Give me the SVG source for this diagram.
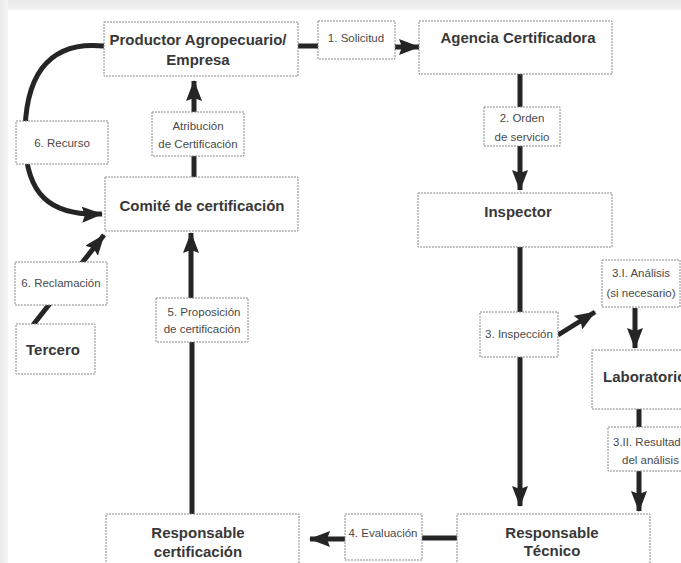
<svg xmlns="http://www.w3.org/2000/svg" width="681" height="563" viewBox="0 0 681 563">
<defs>
<linearGradient id="topg" x1="0" y1="0" x2="0" y2="1"><stop offset="0" stop-color="#e9e9e9"/><stop offset="1" stop-color="#f4f4f4"/></linearGradient>
<linearGradient id="leftg" x1="0" y1="0" x2="1" y2="0"><stop offset="0" stop-color="#e9e9e9"/><stop offset="1" stop-color="#f4f4f4"/></linearGradient>
<marker id="ah" markerUnits="userSpaceOnUse" markerWidth="21" markerHeight="16" viewBox="0 0 21 16" refX="20" refY="8" orient="auto">
<path d="M0,0 L21,8 L0,16 L3,8 z" fill="#252525"/>
</marker>
<style>
.node rect{fill:#fff;stroke:#8a8a8a;stroke-width:1;stroke-dasharray:2 1}
.lbl rect{fill:#fff;stroke:#8a8a8a;stroke-width:1;stroke-dasharray:2 1}
.nt{font-family:"Liberation Sans",Arial,sans-serif;font-weight:bold;font-size:15px;fill:#383838;text-anchor:middle}
.lt{font-family:"Liberation Sans",Arial,sans-serif;font-size:11.5px;fill:#4a4a4a;text-anchor:middle}
.c{fill:none;stroke:#252525;stroke-width:5}
</style>
</defs>
<rect width="681" height="563" fill="#fff"/>
<rect x="0" y="0" width="681" height="10" fill="url(#topg)"/>
<rect x="0" y="0" width="8" height="563" fill="url(#leftg)"/>

<g id="connectors">
<line class="c" x1="298" y1="46" x2="318" y2="46"/>
<line class="c" x1="395" y1="47" x2="419" y2="47" marker-end="url(#ah)"/>
<line class="c" x1="520" y1="74" x2="520" y2="107"/>
<line class="c" x1="520" y1="146" x2="520" y2="190" marker-end="url(#ah)"/>
<line class="c" x1="520" y1="247" x2="520" y2="312"/>
<line class="c" x1="520" y1="357" x2="520" y2="506" marker-end="url(#ah)"/>
<line class="c" x1="558" y1="335" x2="595" y2="312" marker-end="url(#ah)"/>
<line class="c" x1="635" y1="308" x2="635" y2="348" marker-end="url(#ah)"/>
<line class="c" x1="639" y1="409" x2="639" y2="427"/>
<line class="c" x1="639" y1="471" x2="639" y2="511" marker-end="url(#ah)"/>
<line class="c" x1="457" y1="538" x2="422" y2="538"/>
<line class="c" x1="345" y1="539" x2="310" y2="539" marker-end="url(#ah)"/>
<line class="c" x1="192" y1="514" x2="192" y2="342"/>
<line class="c" x1="191" y1="298" x2="191" y2="233" marker-end="url(#ah)"/>
<line class="c" x1="194" y1="177" x2="194" y2="156"/>
<line class="c" x1="194" y1="112" x2="194" y2="81" marker-end="url(#ah)"/>
<path class="c" d="M104,46 C45,40 24,80 25,140 C26,195 50,216 102,214" marker-end="url(#ah)"/>
<line class="c" x1="33" y1="325" x2="104" y2="235" marker-end="url(#ah)"/>
</g>

<g id="productor" class="node"><rect x="104" y="22" width="194" height="54"/>
<text class="nt" x="198" y="45">Productor Agropecuario/</text><text class="nt" x="198" y="65">Empresa</text></g>
<g id="agencia" class="node"><rect x="419" y="21" width="193" height="53"/>
<text class="nt" x="518" y="43">Agencia Certificadora</text></g>
<g id="inspector" class="node"><rect x="418" y="193" width="194" height="54"/>
<text class="nt" x="518" y="217">Inspector</text></g>
<g id="laboratorio" class="node"><rect x="592" y="350" width="120" height="59"/>
<text class="nt" x="603" y="382" style="text-anchor:start">Laboratorio</text></g>
<g id="resp-tecnico" class="node"><rect x="457" y="514" width="193" height="80"/>
<text class="nt" x="552" y="538">Responsable</text><text class="nt" x="552" y="556">Técnico</text></g>
<g id="resp-cert" class="node"><rect x="106" y="514" width="193" height="80"/>
<text class="nt" x="198" y="538">Responsable</text><text class="nt" x="198" y="557">certificación</text></g>
<g id="comite" class="node"><rect x="105" y="177" width="193" height="54"/>
<text class="nt" x="202" y="211">Comité de certificación</text></g>
<g id="tercero" class="node"><rect x="16" y="324" width="79" height="50"/>
<text class="nt" x="53" y="355">Tercero</text></g>

<g id="lbl-solicitud" class="lbl"><rect x="318" y="21" width="77" height="38"/>
<text class="lt" x="356" y="42">1. Solicitud</text></g>
<g id="lbl-orden" class="lbl"><rect x="484" y="107" width="76" height="39"/>
<text class="lt" x="522" y="122">2. Orden</text><text class="lt" x="522" y="141">de servicio</text></g>
<g id="lbl-inspeccion" class="lbl"><rect x="480" y="312" width="78" height="45"/>
<text class="lt" x="519" y="338">3. Inspección</text></g>
<g id="lbl-analisis" class="lbl"><rect x="602" y="260" width="78" height="47"/>
<text class="lt" x="641" y="277">3.I. Análisis</text><text class="lt" x="641" y="297">(si necesario)</text></g>
<g id="lbl-resultado" class="lbl"><rect x="608" y="427" width="100" height="44"/>
<text class="lt" x="613" y="446" style="text-anchor:start">3.II. Resultado</text><text class="lt" x="622" y="464" style="text-anchor:start">del análisis</text></g>
<g id="lbl-evaluacion" class="lbl"><rect x="345" y="514" width="77" height="46"/>
<text class="lt" x="383" y="537">4. Evaluación</text></g>
<g id="lbl-proposicion" class="lbl"><rect x="156" y="298" width="92" height="44"/>
<text class="lt" x="204" y="316">5. Proposición</text><text class="lt" x="202" y="333">de certificación</text></g>
<g id="lbl-atribucion" class="lbl"><rect x="152" y="112" width="92" height="44"/>
<text class="lt" x="198" y="130">Atribución</text><text class="lt" x="198" y="148">de Certificación</text></g>
<g id="lbl-recurso" class="lbl"><rect x="16" y="121" width="92" height="43"/>
<text class="lt" x="62" y="147">6. Recurso</text></g>
<g id="lbl-reclamacion" class="lbl"><rect x="15" y="262" width="92" height="43"/>
<text class="lt" x="61" y="287">6. Reclamación</text></g>
</svg>
